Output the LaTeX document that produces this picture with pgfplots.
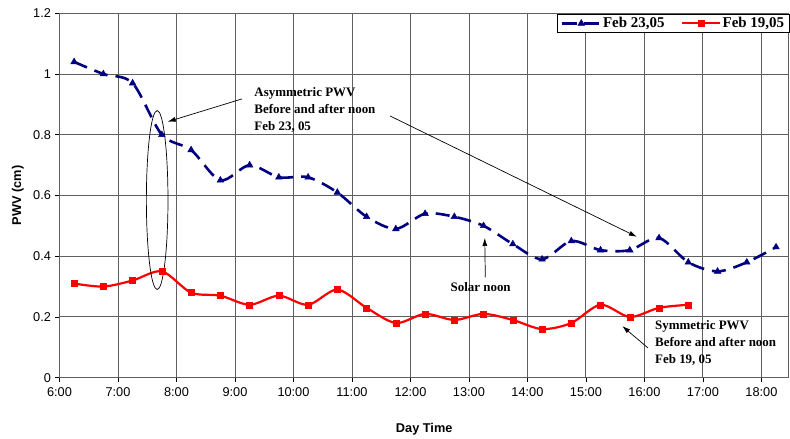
\documentclass[border=0pt]{standalone}
\usepackage{pgfplots}
\pgfplotsset{compat=1.18}
\usepackage{fontspec}
\setmainfont{Liberation Serif}
\setsansfont{Liberation Sans}
\usetikzlibrary{arrows.meta}
\definecolor{navyline}{RGB}{0,0,128}
\definecolor{gridgray}{RGB}{95,95,95}
\begin{document}
\begin{tikzpicture}
\begin{axis}[
  scale only axis,
  width=729.5bp, height=364.4bp,
  xmin=6, xmax=18.47, ymin=0, ymax=1.2,
  xtick={6,7,...,18},
  xticklabels={6:00,7:00,8:00,9:00,10:00,11:00,12:00,13:00,14:00,15:00,16:00,17:00,18:00},
  ytick={0,0.2,0.4,0.6,0.8,1,1.2},
  yticklabels={0,0.2,0.4,0.6,0.8,1,1.2},
  grid=major,
  major grid style={gridgray, line width=0.9bp},
  axis line style={gridgray, line width=0.9bp},
  tick align=outside,
  major tick length=4bp,
  tick style={black, line width=0.8bp},
  xtick pos=bottom, ytick pos=left,
  ticklabel style={font=\sffamily\fontsize{12.8}{14}\selectfont},
  /pgf/number format/assume math mode=true,
  xticklabel style={yshift=-2bp},
  yticklabel style={xshift=-1bp},
  xlabel={Day Time},
  ylabel={PWV (cm)},
  label style={font=\sffamily\bfseries\fontsize{12.8}{14}\selectfont},
  xlabel style={at={(axis description cs:0.5,0)}, anchor=base, yshift=-54.5bp},
  ylabel style={at={(axis description cs:-0.057,0.5)}, anchor=center},
  clip=false,
  legend columns=2,
  legend style={at={(1.0015,0.998)}, anchor=north east, draw=black, line width=0.8bp, fill=white,
    font=\bfseries\fontsize{15}{16}\selectfont, inner xsep=4bp, inner ysep=1bp,
    nodes={inner xsep=1.5bp},
    /tikz/every even column/.append style={column sep=15bp}},
  legend image code/.code={
    \draw[mark repeat=2,mark phase=2,#1] plot coordinates {(0bp,0bp) (19bp,0bp) (38bp,0bp)};
  },
]
\addplot[navyline, line width=2.6bp, dash pattern=on 14bp off 8bp, smooth, tension=0.5,
  mark=triangle*, mark size=3.8bp, mark options={solid, fill=navyline, line width=0.5bp}]
  coordinates {
  (6.25,1.04) (6.75,1.00) (7.25,0.97) (7.75,0.80) (8.25,0.75) (8.75,0.65)
  (9.25,0.70) (9.75,0.66) (10.25,0.66) (10.75,0.61) (11.25,0.53) (11.75,0.49)
  (12.25,0.54) (12.75,0.53) (13.25,0.50) (13.75,0.44) (14.25,0.39) (14.75,0.45)
  (15.25,0.42) (15.75,0.42) (16.25,0.46) (16.75,0.38) (17.25,0.35) (17.75,0.38)
  (18.25,0.43)
  };
\addlegendentry{Feb 23,05}
\addplot[red, line width=2.2bp, smooth, tension=0.5,
  mark=square*, mark size=3bp, mark options={solid, fill=red, line width=0.5bp}]
  coordinates {
  (6.25,0.31) (6.75,0.30) (7.25,0.32) (7.75,0.35) (8.25,0.28) (8.75,0.27)
  (9.25,0.24) (9.75,0.27) (10.25,0.24) (10.75,0.29) (11.25,0.23) (11.75,0.18)
  (12.25,0.21) (12.75,0.19) (13.25,0.21) (13.75,0.19) (14.25,0.16) (14.75,0.18)
  (15.25,0.24) (15.75,0.20) (16.25,0.23) (16.75,0.24)
  };
\addlegendentry{Feb 19,05}
% annotations
\draw[black, line width=0.7bp] (axis cs:7.67,0.585) ellipse [x radius=10.8bp, y radius=89.5bp];
\draw[black, line width=0.7bp, -{Latex[length=8bp,width=5bp]}] (axis cs:9.12,0.918) -- (axis cs:7.85,0.843);
\draw[black, line width=0.7bp, -{Latex[length=8bp,width=5bp]}] (axis cs:11.65,0.862) -- (axis cs:15.87,0.464);
\draw[black, line width=0.7bp, -{Latex[length=8bp,width=5bp]}] (axis cs:13.28,0.33) -- (axis cs:13.27,0.46);
\draw[black, line width=0.7bp, -{Latex[length=8bp,width=5bp]}] (axis cs:16.06,0.098) -- (axis cs:15.62,0.17);
\node[anchor=north west, align=left, inner sep=0pt, font=\bfseries\fontsize{13}{17}\selectfont]
  at (axis cs:9.33,0.955) {Asymmetric PWV\\Before and after noon\\Feb 23, 05};
\node[anchor=center, inner sep=0pt, font=\bfseries\fontsize{13}{17}\selectfont]
  at (axis cs:13.2,0.30) {Solar noon};
\node[anchor=north west, align=left, inner sep=0pt, font=\bfseries\fontsize{13}{17}\selectfont]
  at (axis cs:16.18,0.19) {Symmetric PWV\\Before and after noon\\Feb 19, 05};
\end{axis}
\path ([xshift=-59.5bp,yshift=-56.3bp]current axis.south west) rectangle ([xshift=1bp,yshift=13.3bp]current axis.north east);
\end{tikzpicture}
\end{document}
